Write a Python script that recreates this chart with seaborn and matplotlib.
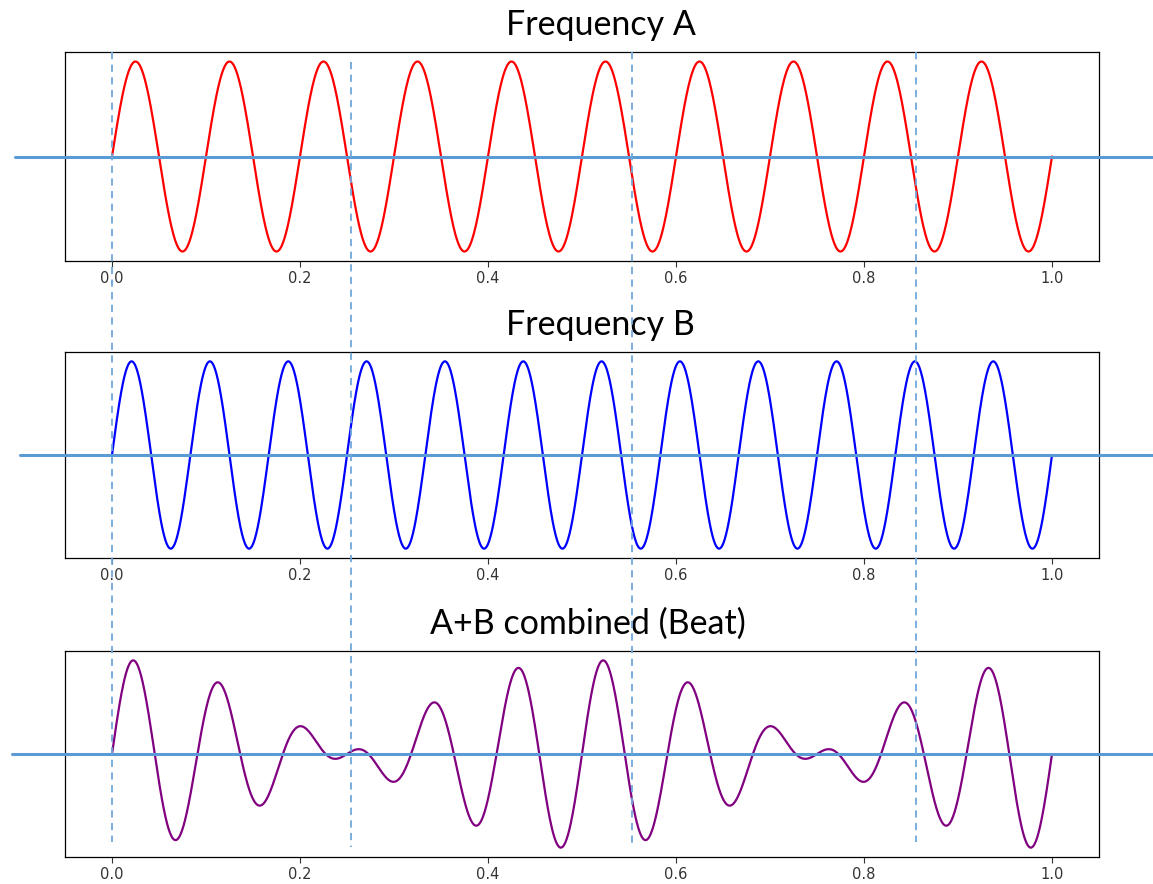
import numpy as np
import pandas as pd
import matplotlib
matplotlib.use("Agg")
import matplotlib.pyplot as plt
import matplotlib.transforms as mtransforms
from matplotlib.lines import Line2D
import seaborn as sns

# ---- data ----
freq_a = 10          # cycles over the window (Frequency A)
freq_b = 12          # cycles over the window (Frequency B)
n_samples = 2000
titles = ["Frequency A", "Frequency B", "A+B combined (Beat)"]
line_colors = ["red", "blue", "purple"]
marker_times = [0.0, 0.254, 0.553, 0.855]   # dashed reference lines
x_ticks = [0.0, 0.2, 0.4, 0.6, 0.8, 1.0]

t = np.linspace(0, 1, n_samples)
sig_a = np.sin(2 * np.pi * freq_a * t)
sig_b = np.sin(2 * np.pi * freq_b * t)
sig_c = sig_a + sig_b
df = pd.DataFrame({"t": t, "A": sig_a, "B": sig_b, "C": sig_c})
series = ["A", "B", "C"]

sns.set_theme(style="white")
plt.rcParams["font.family"] = ["DejaVu Sans"]

fig = plt.figure(figsize=(11.53, 8.84), dpi=100)
W, H = 1153, 884
boxes = [(52, 261), (352, 558), (651, 857)]
left_px, right_px = 65, 1099
title_x = [0.518, 0.518, 0.506]
hline_start = [-0.048, -0.0435, -0.051]
axes = []
for (top, bot) in boxes:
    ax = fig.add_axes([left_px / W, 1 - bot / H, (right_px - left_px) / W, (bot - top) / H])
    axes.append(ax)

hcol = "#5B9BD5"
for i, ax in enumerate(axes):
    sns.lineplot(data=df, x="t", y=series[i], ax=ax, color=line_colors[i],
                 linewidth=1.6, estimator=None)
    ax.set_xlabel("")
    ax.set_ylabel("")
    ax.set_yticks([])
    ax.set_xticks(x_ticks)
    ax.set_xticklabels([f"{v:.1f}" for v in x_ticks])
    ax.tick_params(axis="x", labelsize=10.5, colors="#333333", length=4, width=0.8,
                   bottom=True, direction="out", pad=3)
    for sp in ax.spines.values():
        sp.set_visible(True)
        sp.set_color("black")
        sp.set_linewidth(0.9)
    ax.axhline(0, xmin=hline_start[i], xmax=1.06, color=hcol, linewidth=2.2,
               clip_on=False, zorder=5)
    ax.set_title(titles[i], fontsize=24.5, family=["Lato", "DejaVu Sans"],
                 color="black", x=title_x[i], pad=12)

# dashed vertical reference lines spanning all panels
trans = mtransforms.blended_transform_factory(axes[0].transData, fig.transFigure)
starts = [52, 62, 52, 52]
ends = [842, 847, 843, 842]
for xv, s, e in zip(marker_times, starts, ends):
    fig.add_artist(Line2D([xv, xv], [1 - s / H, 1 - e / H], transform=trans,
                          color="#6FA8DC", linewidth=1.3, linestyle=(0, (4, 3)), zorder=10))

fig.savefig("out.png", dpi=100)
